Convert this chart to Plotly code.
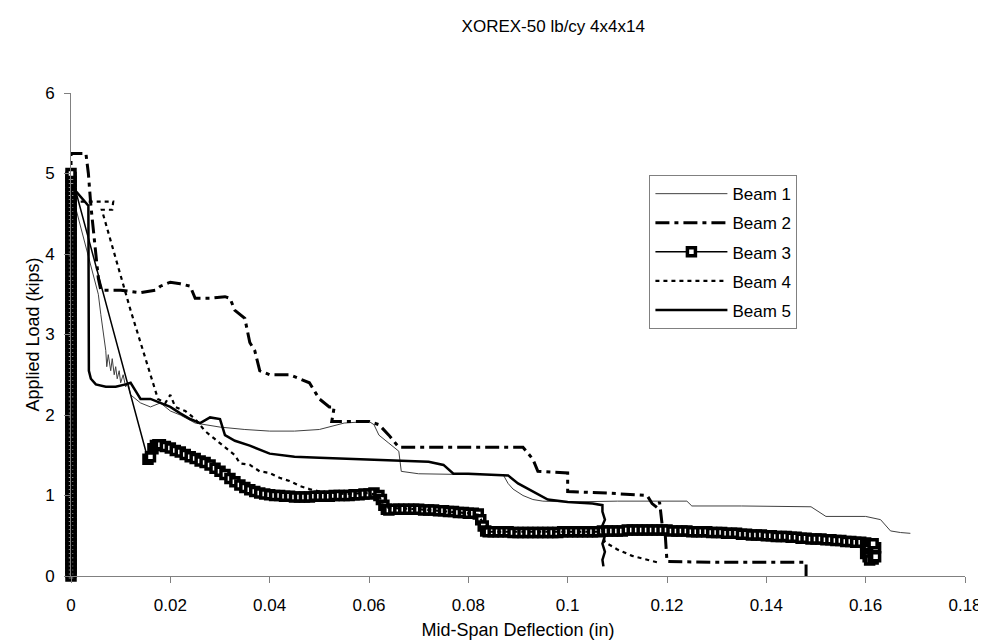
import plotly.graph_objects as go

title_text = "XOREX-50 lb/cy 4x4x14"
x_title = "Mid-Span Deflection (in)"
y_title = "Applied Load (kips)"
series_names = ["Beam 1", "Beam 2", "Beam 3", "Beam 4", "Beam 5"]

beam1_x = [0, 0, 0.0004, 0.003, 0.0055, 0.006, 0.0065, 0.007, 0.0072, 0.0075, 0.008, 0.0083, 0.0087,
           0.009, 0.0093, 0.0097, 0.010, 0.0105, 0.011, 0.0115, 0.012, 0.013, 0.014, 0.016, 0.018,
           0.02, 0.022, 0.025, 0.03, 0.035, 0.04, 0.045, 0.05, 0.055, 0.06, 0.061, 0.062, 0.064,
           0.066, 0.0665, 0.07, 0.08, 0.087, 0.088, 0.089, 0.091, 0.093, 0.095, 0.1, 0.11, 0.124,
           0.125, 0.135, 0.149, 0.152, 0.16, 0.163, 0.165, 0.167, 0.169]
beam1_y = [0, 4.7, 4.7, 4.1, 3.5, 3.25, 3.0, 2.8, 2.6, 2.75, 2.55, 2.7, 2.5,
           2.6, 2.45, 2.55, 2.4, 2.5, 2.35, 2.4, 2.25, 2.2, 2.15, 2.1, 2.15,
           2.05, 2.0, 1.9, 1.85, 1.82, 1.8, 1.8, 1.82, 1.9, 1.92, 1.88, 1.75, 1.65,
           1.55, 1.3, 1.27, 1.26, 1.26, 1.15, 1.08, 1.0, 0.95, 0.93, 0.92, 0.93, 0.93,
           0.87, 0.87, 0.86, 0.74, 0.74, 0.7, 0.56, 0.54, 0.53]

beam2_x = [0, 0, 0.003, 0.0035, 0.004, 0.005, 0.0055, 0.006, 0.01, 0.014, 0.017, 0.018, 0.02,
           0.022, 0.024, 0.025, 0.028, 0.031, 0.032, 0.033, 0.035, 0.036, 0.037, 0.038, 0.04,
           0.044, 0.046, 0.048, 0.05, 0.052, 0.053, 0.0525, 0.06, 0.062, 0.064, 0.066, 0.075,
           0.085, 0.091, 0.093, 0.094, 0.1, 0.1, 0.108, 0.116, 0.117, 0.118, 0.1185, 0.119,
           0.1195, 0.12, 0.13, 0.14, 0.148, 0.148]
beam2_y = [0, 5.25, 5.25, 5.0, 4.6, 4.0, 3.7, 3.55, 3.55, 3.52, 3.55, 3.6, 3.65,
           3.63, 3.6, 3.45, 3.45, 3.47, 3.45, 3.3, 3.2, 2.9, 2.8, 2.55, 2.5,
           2.5, 2.45, 2.4, 2.2, 2.1, 2.1, 1.92, 1.92, 1.88, 1.75, 1.6, 1.6,
           1.6, 1.6, 1.45, 1.3, 1.28, 1.05, 1.03, 1.0, 0.9, 0.85, 0.92, 0.65,
           0.65, 0.18, 0.17, 0.17, 0.17, 0.0]

# Beam 3: dense readings, first the vertical loading branch at ~zero deflection
beam3_x = [0, 0, 0, 0, 0, 0, 0, 0, 0, 0, 0, 0, 0, 0, 0, 0, 0, 0, 0, 0,
           0, 0, 0, 0, 0, 0, 0, 0, 0, 0, 0, 0, 0, 0, 0, 0, 0, 0, 0, 0,
           0, 0, 0, 0, 0, 0, 0, 0, 0, 0, 0, 0, 0, 0, 0, 0, 0, 0, 0, 0,
           0, 0, 0, 0, 0, 0, 0, 0, 0, 0, 0, 0, 0, 0, 0, 0, 0, 0, 0, 0,
           0, 0, 0, 0, 0, 0, 0, 0, 0, 0, 0, 0, 0, 0, 0, 0, 0, 0, 0, 0, 0,
           0.0155, 0.016, 0.0165, 0.017, 0.0175, 0.018, 0.019, 0.020, 0.021, 0.022, 0.023, 0.024,
           0.025, 0.026, 0.027, 0.028, 0.029, 0.030, 0.031, 0.032, 0.033, 0.034, 0.035, 0.036,
           0.037, 0.038, 0.039, 0.040, 0.041, 0.042, 0.043, 0.044, 0.045, 0.046, 0.047, 0.048,
           0.049, 0.050, 0.051, 0.052, 0.053, 0.054, 0.055, 0.056, 0.057, 0.058, 0.059, 0.060,
           0.061, 0.062, 0.0625, 0.063, 0.0635, 0.064, 0.065, 0.066, 0.067, 0.068, 0.069, 0.070,
           0.071, 0.072, 0.073, 0.074, 0.075, 0.076, 0.077, 0.078, 0.079, 0.080, 0.081, 0.082,
           0.0825, 0.083, 0.0835, 0.084, 0.085, 0.086, 0.087, 0.088, 0.089, 0.090, 0.091, 0.092,
           0.093, 0.094, 0.095, 0.096, 0.097, 0.098, 0.099, 0.100, 0.101, 0.102, 0.103, 0.104,
           0.105, 0.106, 0.107, 0.108, 0.109, 0.110, 0.111, 0.112, 0.113, 0.114, 0.115, 0.116,
           0.117, 0.118, 0.119, 0.120, 0.121, 0.122, 0.123, 0.124, 0.125, 0.126, 0.127, 0.128,
           0.129, 0.130, 0.131, 0.132, 0.133, 0.134, 0.135, 0.136, 0.137, 0.138, 0.139, 0.140,
           0.141, 0.142, 0.143, 0.144, 0.145, 0.146, 0.147, 0.148, 0.149, 0.150, 0.151, 0.152,
           0.153, 0.154, 0.155, 0.156, 0.157, 0.158, 0.159, 0.160, 0.1605, 0.161, 0.1605, 0.160,
           0.1605, 0.1608, 0.1615, 0.162, 0.162, 0.1615]
beam3_y = [0.00, 0.05, 0.10, 0.15, 0.20, 0.25, 0.30, 0.35, 0.40, 0.45,
           0.50, 0.55, 0.60, 0.65, 0.70, 0.75, 0.80, 0.85, 0.90, 0.95,
           1.00, 1.05, 1.10, 1.15, 1.20, 1.25, 1.30, 1.35, 1.40, 1.45,
           1.50, 1.55, 1.60, 1.65, 1.70, 1.75, 1.80, 1.85, 1.90, 1.95,
           2.00, 2.05, 2.10, 2.15, 2.20, 2.25, 2.30, 2.35, 2.40, 2.45,
           2.50, 2.55, 2.60, 2.65, 2.70, 2.75, 2.80, 2.85, 2.90, 2.95,
           3.00, 3.05, 3.10, 3.15, 3.20, 3.25, 3.30, 3.35, 3.40, 3.45,
           3.50, 3.55, 3.60, 3.65, 3.70, 3.75, 3.80, 3.85, 3.90, 3.95,
           4.00, 4.05, 4.10, 4.15, 4.20, 4.25, 4.30, 4.35, 4.40, 4.45,
           4.50, 4.55, 4.60, 4.65, 4.70, 4.75, 4.80, 4.85, 4.90, 4.95, 5.00,
           1.45, 1.48, 1.58, 1.62, 1.63, 1.63, 1.61, 1.59, 1.56, 1.54, 1.51, 1.48,
           1.46, 1.43, 1.41, 1.38, 1.34, 1.30, 1.26, 1.21, 1.17, 1.13, 1.10, 1.07,
           1.05, 1.03, 1.02, 1.01, 1.00, 1.00, 0.99, 0.99, 0.98, 0.98, 0.98, 0.98,
           0.99, 0.99, 0.99, 0.99, 1.00, 1.00, 1.00, 1.00, 1.01, 1.01, 1.02, 1.02,
           1.03, 1.00, 0.95, 0.88, 0.83, 0.82, 0.83, 0.83, 0.83, 0.83, 0.83, 0.83,
           0.82, 0.82, 0.82, 0.81, 0.81, 0.80, 0.80, 0.79, 0.79, 0.78, 0.78, 0.77,
           0.70, 0.62, 0.56, 0.55, 0.55, 0.55, 0.55, 0.55, 0.54, 0.54, 0.54, 0.54,
           0.54, 0.54, 0.54, 0.54, 0.54, 0.54, 0.55, 0.55, 0.55, 0.55, 0.55, 0.55,
           0.55, 0.55, 0.56, 0.56, 0.56, 0.56, 0.56, 0.57, 0.57, 0.57, 0.57, 0.57,
           0.57, 0.57, 0.57, 0.57, 0.56, 0.56, 0.56, 0.56, 0.55, 0.55, 0.55, 0.55,
           0.54, 0.54, 0.54, 0.53, 0.53, 0.53, 0.52, 0.52, 0.51, 0.51, 0.51, 0.50,
           0.50, 0.49, 0.49, 0.49, 0.48, 0.48, 0.47, 0.47, 0.46, 0.46, 0.46, 0.45,
           0.45, 0.44, 0.44, 0.43, 0.43, 0.42, 0.42, 0.41, 0.40, 0.38, 0.33, 0.28,
           0.24, 0.20, 0.21, 0.24, 0.35, 0.40]

beam4_x = [0, 0, 0.0085, 0.0083, 0.0062, 0.009, 0.012, 0.015, 0.0175, 0.019, 0.02, 0.021, 0.023,
           0.025, 0.027, 0.029, 0.031, 0.033, 0.034, 0.036, 0.038, 0.04, 0.042, 0.044, 0.046,
           0.048, 0.05, 0.055, 0.06, 0.062, 0.063, 0.07, 0.08, 0.082, 0.084, 0.095, 0.107,
           0.1075, 0.11, 0.113, 0.116, 0.118]
beam4_y = [0, 4.65, 4.65, 4.55, 4.55, 3.95, 3.3, 2.7, 2.2, 2.15, 2.25, 2.1, 2.05,
           1.95, 1.8, 1.7, 1.6, 1.5, 1.4, 1.38, 1.3, 1.28, 1.22, 1.18, 1.12,
           1.08, 1.05, 1.02, 1.03, 1.0, 0.85, 0.83, 0.78, 0.76, 0.55, 0.55, 0.55,
           0.42, 0.33, 0.25, 0.2, 0.17]

beam5_x = [0, 0, 0.0035, 0.0036, 0.004, 0.005, 0.007, 0.009, 0.011, 0.012, 0.013, 0.014, 0.016,
           0.018, 0.02, 0.022, 0.024, 0.026, 0.028, 0.03, 0.031, 0.033, 0.036, 0.04, 0.045,
           0.05, 0.06, 0.066, 0.072, 0.075, 0.077, 0.08, 0.085, 0.088, 0.09, 0.093, 0.096,
           0.1, 0.105, 0.107, 0.107, 0.1075, 0.1068, 0.1075, 0.107, 0.1075, 0.107, 0.1072]
beam5_y = [0, 4.85, 4.6, 2.55, 2.45, 2.38, 2.35, 2.35, 2.38, 2.4, 2.3, 2.2, 2.2,
           2.15, 2.1, 2.02, 1.95, 1.9, 1.97, 1.95, 1.75, 1.68, 1.62, 1.52, 1.48,
           1.47, 1.45, 1.43, 1.42, 1.38, 1.27, 1.27, 1.26, 1.25, 1.15, 1.05, 0.95,
           0.92, 0.9, 0.88, 0.8, 0.7, 0.6, 0.5, 0.4, 0.3, 0.2, 0.12]

x_ticks = [0, 0.02, 0.04, 0.06, 0.08, 0.1, 0.12, 0.14, 0.16, 0.18]
x_tick_labels = ["0", "0.02", "0.04", "0.06", "0.08", "0.1", "0.12", "0.14", "0.16", "0.18"]
y_ticks = [0, 1, 2, 3, 4, 5, 6]

FONT = "Arial, 'Liberation Sans', sans-serif"
AXIS_GRAY = "#808080"

fig = go.Figure()
fig.add_trace(go.Scatter(x=beam1_x, y=beam1_y, name=series_names[0], mode="lines",
                         legendgroup="b1",
                         line=dict(color="#404040", width=1)))
fig.add_trace(go.Scatter(x=beam2_x, y=beam2_y, name=series_names[1], mode="lines",
                         legendgroup="b2",
                         line=dict(color="black", width=3, dash="14px,5px,4px,5px")))
fig.add_trace(go.Scatter(x=beam3_x, y=beam3_y, name=series_names[2], mode="lines+markers",
                         legendgroup="b3", cliponaxis=False,
                         line=dict(color="black", width=1.5),
                         marker=dict(symbol="square", size=8, color="white",
                                     line=dict(color="black", width=3.5))))
fig.add_trace(go.Scatter(x=beam4_x, y=beam4_y, name=series_names[3], mode="lines",
                         legendgroup="b4",
                         line=dict(color="black", width=2.2, dash="4px,4px")))
fig.add_trace(go.Scatter(x=beam5_x, y=beam5_y, name=series_names[4], mode="lines",
                         legendgroup="b5",
                         line=dict(color="black", width=2.5)))

fig.update_layout(
    width=986, height=640,
    paper_bgcolor="white", plot_bgcolor="white",
    margin=dict(l=63, r=22, t=85, b=71),
    font=dict(family=FONT, size=16, color="black"),
    title=dict(text=title_text, xref="container", x=0.553, xanchor="center",
               yref="container", y=0.972, yanchor="middle",
               font=dict(family=FONT, size=17, color="black")),
    showlegend=True,
    legend=dict(x=0.647, y=0.83, xanchor="left", yanchor="top",
                bgcolor="white", bordercolor=AXIS_GRAY, borderwidth=1,
                traceorder="grouped", tracegroupgap=4, itemwidth=72,
                entrywidth=150, entrywidthmode="pixels",
                font=dict(family=FONT, size=17, color="black")),
    xaxis=dict(range=[0, 0.18], tickvals=x_ticks, ticktext=x_tick_labels,
               showgrid=False, zeroline=False, showline=True, linecolor=AXIS_GRAY,
               linewidth=1, ticks="outside", ticklen=6, tickcolor=AXIS_GRAY,
               ticklabelstandoff=8,
               title=dict(text=x_title, font=dict(family=FONT, size=18), standoff=8),
               tickfont=dict(family=FONT, size=17)),
    yaxis=dict(range=[0, 6], tickvals=y_ticks,
               showgrid=False, zeroline=False, showline=True, linecolor=AXIS_GRAY,
               linewidth=1, ticks="outside", ticklen=6, tickcolor=AXIS_GRAY,
               ticklabelstandoff=6,
               title=dict(text=y_title, font=dict(family=FONT, size=18), standoff=0),
               tickfont=dict(family=FONT, size=17)),
)

fig.write_html("out.html")
